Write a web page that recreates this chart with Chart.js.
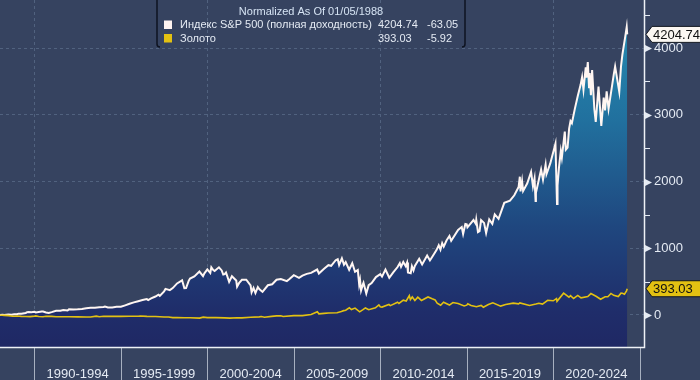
<!DOCTYPE html>
<html>
<head>
<meta charset="utf-8">
<script src="https://cdn.jsdelivr.net/npm/chart.js@4.4.1/dist/chart.umd.min.js"></script>
<style>
    html, body { margin: 0; padding: 0; background: #364360; }
    #wrap { width: 700px; height: 380px; }
</style>
</head>
<body>
<div id="wrap"><canvas id="chart" width="700" height="380"></canvas></div>
<script>
// S&P 500 total return, % change since 01/05/1988
const spxDates = [
    1988.01, 1988.16, 1988.25, 1988.5, 1988.67, 1988.83, 1989.0, 1989.08, 1989.25, 1989.5,
    1989.58, 1989.67, 1989.83, 1990.0, 1990.08, 1990.42, 1990.5, 1990.67, 1990.83, 1991.0,
    1991.25, 1991.5, 1991.67, 1991.92, 1992.0, 1992.25, 1992.5, 1992.75, 1993.0, 1993.25,
    1993.5, 1993.75, 1994.0, 1994.08, 1994.25, 1994.5, 1994.75, 1995.0, 1995.25, 1995.5,
    1995.75, 1996.0, 1996.25, 1996.5, 1996.58, 1996.75, 1997.0, 1997.17, 1997.25, 1997.5,
    1997.58, 1997.83, 1998.0, 1998.25, 1998.54, 1998.67, 1998.77, 1998.92, 1999.0, 1999.25,
    1999.54, 1999.75, 1999.83, 2000.0, 2000.17, 2000.23, 2000.33, 2000.42, 2000.67, 2000.83,
    2000.92, 2001.0, 2001.08, 2001.26, 2001.42, 2001.67, 2001.72, 2001.83, 2002.0, 2002.25,
    2002.5, 2002.56, 2002.67, 2002.78, 2002.92, 2003.0, 2003.19, 2003.5, 2003.75, 2004.0,
    2004.25, 2004.6, 2004.75, 2005.0, 2005.3, 2005.5, 2005.75, 2006.0, 2006.35, 2006.45,
    2006.75, 2007.0, 2007.16, 2007.42, 2007.54, 2007.62, 2007.78, 2007.9, 2008.0, 2008.2,
    2008.38, 2008.54, 2008.7, 2008.78, 2008.83, 2008.89, 2009.0, 2009.03, 2009.19, 2009.33,
    2009.5, 2009.75, 2010.0, 2010.1, 2010.3, 2010.52, 2010.75, 2011.0, 2011.13, 2011.2,
    2011.33, 2011.47, 2011.55, 2011.6, 2011.76, 2011.83, 2011.92, 2012.0, 2012.25, 2012.42,
    2012.71, 2012.87, 2013.0, 2013.25, 2013.38, 2013.48, 2013.58, 2013.67, 2013.83, 2014.0,
    2014.1, 2014.5, 2014.71, 2014.79, 2014.92, 2015.0, 2015.04, 2015.39, 2015.52, 2015.55,
    2015.65, 2015.74, 2015.83, 2016.0, 2016.12, 2016.3, 2016.48, 2016.62, 2016.84, 2017.0,
    2017.17, 2017.5, 2017.75, 2018.0, 2018.07, 2018.11, 2018.2, 2018.26, 2018.5, 2018.72,
    2018.83, 2018.92, 2018.98, 2019.0, 2019.3, 2019.41, 2019.56, 2019.61, 2019.83, 2020.0,
    2020.13, 2020.22, 2020.25, 2020.33, 2020.44, 2020.5, 2020.67, 2020.73, 2020.83, 2020.92,
    2021.0, 2021.08, 2021.25, 2021.42, 2021.58, 2021.67, 2021.75, 2021.88, 2021.92, 2022.0,
    2022.07, 2022.11, 2022.18, 2022.25, 2022.38, 2022.46, 2022.62, 2022.78, 2022.92, 2023.0,
    2023.09, 2023.2, 2023.5, 2023.58, 2023.82, 2023.92, 2024.0, 2024.17, 2024.25, 2024.28
];
const spxValues = [
    0, 4.2, 1.0, 7.7, 3.6, 11.2, 11.4, 19.7, 19.3, 29.8,
    41.6, 44.2, 40.5, 46.7, 37.0, 52.3, 51.4, 37.2, 30.1, 42.2,
    62.9, 62.5, 74.0, 66.4, 85.5, 80.9, 84.2, 90.0, 99.6, 108.4,
    109.4, 114.7, 119.8, 127.5, 111.6, 112.4, 122.7, 122.6, 144.3, 167.5,
    188.8, 206.3, 222.9, 237.3, 222.5, 247.7, 276.8, 303.5, 286.9, 354.3,
    390.6, 372.3, 402.6, 472.8, 519.3, 400.9, 402.4, 511.1, 546.3, 578.4,
    650.5, 580.7, 624, 682.1, 628.7, 715, 676, 659.7, 713.6, 667.4,
    606.7, 610.9, 636.3, 496, 579.9, 515.6, 424.8, 476.8, 526.3, 528.5,
    444.4, 339.1, 405.2, 329.0, 418.4, 387.9, 345.3, 445.3, 459.9, 527.9,
    538.8, 506.7, 537.5, 596.3, 557.1, 590.7, 615.7, 630.4, 680.9, 622.1,
    692.8, 745.8, 736.8, 820.1, 835.7, 748.8, 847.4, 753.5, 792.3, 677.5,
    774.9, 647.9, 673.5, 457, 523, 367, 462.2, 482.1, 322.8, 447.0,
    478.1, 568.1, 611.1, 575, 680.3, 557.9, 638.9, 718.5, 776.3, 721.4,
    793.7, 731.6, 785.6, 637.7, 626.8, 729.9, 668.7, 735.7, 841.3, 757.3,
    889.8, 817.2, 869.4, 972.4, 1043.9, 980.4, 1076.6, 1024.2, 1115.3, 1183.5,
    1111.7, 1275.3, 1317.2, 1214.5, 1363, 1359.3, 1313.4, 1422.9, 1366.8, 1426.2,
    1242.1, 1254.9, 1421.8, 1379.7, 1227.9, 1432.4, 1364, 1507.8, 1440.8, 1557.3,
    1679.7, 1712, 1793.1, 1918.6, 2071.6, 1852.3, 2008.1, 1857.8, 1972.5, 2144.1,
    1926.6, 2044.7, 1709.2, 1829.8, 2179.2, 2027.2, 2251.4, 2109.4, 2271.4, 2437.7,
    2566.2, 1664.6, 1939.5, 2201.7, 2459.4, 2357.6, 2747.1, 2476.6, 2507.8, 2793,
    2904.6, 2874, 3089.1, 3282.6, 3444.8, 3563.6, 3376.5, 3710.2, 3556.9, 3791.4,
    3413.6, 3627, 3292, 3670.6, 3081.5, 2893.9, 3423, 2833.5, 3255.9, 3067,
    3351.7, 3089.1, 3601.4, 3721.7, 3342.5, 3725.5, 3900, 4179.4, 4314.2, 4204.74
];

// Gold, % change since 01/05/1988
const goldDates = [
    1988.01, 1988.04, 1988.25, 1988.5, 1988.75, 1989.0, 1989.25, 1989.5, 1989.75, 1990.0,
    1990.08, 1990.25, 1990.5, 1990.67, 1991.0, 1991.25, 1992.0, 1992.5, 1993.0, 1993.25,
    1993.58, 1993.75, 1994.0, 1994.5, 1995.0, 1995.5, 1996.0, 1996.13, 1996.5, 1997.0,
    1997.25, 1997.5, 1997.75, 1998.0, 1998.25, 1998.67, 1999.0, 1999.55, 1999.76, 2000.0,
    2000.13, 2000.5, 2001.0, 2001.3, 2001.72, 2002.0, 2002.5, 2003.0, 2003.12, 2003.3,
    2003.72, 2004.0, 2004.25, 2004.38, 2005.0, 2005.5, 2006.0, 2006.36, 2006.45, 2006.75,
    2007.0, 2007.5, 2007.75, 2007.88, 2008.0, 2008.21, 2008.33, 2008.54, 2008.81, 2009.0,
    2009.14, 2009.33, 2009.72, 2009.92, 2010.0, 2010.1, 2010.5, 2010.58, 2011.0, 2011.08,
    2011.33, 2011.5, 2011.68, 2011.74, 2011.85, 2012.0, 2012.17, 2012.38, 2012.76, 2013.0,
    2013.17, 2013.29, 2013.49, 2013.66, 2014.0, 2014.2, 2014.5, 2014.85, 2015.0, 2015.06,
    2015.25, 2015.56, 2015.83, 2015.96, 2016.25, 2016.51, 2016.96, 2017.25, 2017.69, 2018.0,
    2018.07, 2018.63, 2019.0, 2019.17, 2019.38, 2019.68, 2020.0, 2020.19, 2020.22, 2020.6,
    2020.91, 2021.0, 2021.18, 2021.42, 2021.61, 2022.0, 2022.18, 2022.5, 2022.74, 2023.0,
    2023.16, 2023.34, 2023.5, 2023.76, 2023.92, 2024.0, 2024.12, 2024.24, 2024.28
];
const goldValues = [
    0, -1.6, -5.8, -10.1, -18.1, -15.5, -20.6, -23.1, -24.3, -17.3,
    -14.4, -23.9, -27.4, -18.6, -20.4, -26.6, -27.2, -29.3, -31.3, -30.5,
    -17.3, -26.8, -19.4, -20.6, -21.0, -20.2, -20.2, -16.5, -21.2, -23.9,
    -27.4, -31.1, -31.5, -40.2, -38.1, -41.4, -40.6, -47.2, -33.0, -40.2,
    -38.1, -40.4, -43.9, -46.8, -42.3, -42.9, -34.4, -28.5, -24.1, -33.0,
    -20.6, -14.2, -12.6, -22.7, -9.7, -9.9, 5.8, 48.5, 16.9, 23.7,
    30.3, 34.0, 53.2, 64.9, 72.0, 108.5, 81.4, 103.7, 47.0, 79.4,
    105.2, 79.4, 106.2, 151.1, 124.3, 118.1, 156.5, 139.2, 190.7, 172.0,
    220.8, 209.3, 290.7, 229.9, 270.1, 215.7, 267.0, 217.5, 269.1, 241.6,
    225.8, 178.4, 145.8, 191.8, 148.2, 185.6, 171.1, 135.1, 147.2, 168.0,
    143.3, 122.7, 143.3, 116.5, 156.7, 181.6, 132.6, 156.7, 177.5, 167.2,
    180.4, 142.1, 163.7, 176.3, 162.9, 219.6, 212.4, 246.4, 203.9, 326.2,
    266.2, 289.3, 247.2, 292.8, 256.7, 275.3, 320.6, 277.3, 235.7, 273.8,
    273.2, 322.7, 294.8, 275.3, 326.8, 325.4, 310.7, 359.8, 393.03
];

const legendTitle = 'Normalized As Of 01/05/1988';
const seriesNames = ['Индекс S&P 500 (полная доходность)', 'Золото'];
const lastValues = ['4204.74', '393.03'];
const lastChanges = ['-63.05', '-5.92'];

const xGridYears = [1990, 2000, 2010, 2020];
const xLabelStarts = [1990, 1995, 2000, 2005, 2010, 2015, 2020];
const xLabels = ['1990-1994', '1995-1999', '2000-2004', '2005-2009', '2010-2014', '2015-2019', '2020-2024'];
const yTickValues = [0, 1000, 2000, 3000, 4000];
const yMinorTicks = [500, 1500, 2500, 3500, 4500];

const BG = '#364360';
const GRID = '#51627f';
const TEXT = '#e4eaf3';
const WHITE_LINE = '#fff6f2';
const GOLD = '#e3c112';
const FONT = "'Liberation Sans', Arial, sans-serif";

Chart.defaults.font.family = FONT;

function toPoints(dates, values) {
    return dates.map((d, i) => ({ x: d, y: values[i] }));
}

function valueTag(ctx, px, py, text, bg) {
    const h = 16;
    const tip = 6;
    ctx.beginPath();
    ctx.moveTo(px, py);
    ctx.lineTo(px + tip, py - h / 2);
    ctx.lineTo(701, py - h / 2);
    ctx.lineTo(701, py + h / 2);
    ctx.lineTo(px + tip, py + h / 2);
    ctx.closePath();
    ctx.fillStyle = bg;
    ctx.fill();
    ctx.strokeStyle = '#141820';
    ctx.lineWidth = 1;
    ctx.stroke();
    ctx.fillStyle = '#111';
    ctx.font = '13px ' + FONT;
    ctx.textAlign = 'left';
    ctx.textBaseline = 'middle';
    ctx.fillText(text, px + tip + 1, py + 1);
}

// no extra padding round the plot: it has to fill the canvas up to the axes
function noPadding(s) {
    s.paddingTop = 0;
    s.paddingBottom = 0;
    s.paddingLeft = 0;
    s.paddingRight = 0;
}

const decorPlugin = {
    id: 'decor',
    afterDraw(chart) {
        const ctx = chart.ctx;
        const a = chart.chartArea;
        const x = chart.scales.x;
        const y = chart.scales.y;
        ctx.save();

        // frame of the plot
        ctx.strokeStyle = '#eef1f6';
        ctx.lineWidth = 1.5;
        ctx.beginPath();
        ctx.moveTo(a.left, a.bottom + 0.5);
        ctx.lineTo(a.right + 0.5, a.bottom + 0.5);
        ctx.lineTo(a.right + 0.5, a.top);
        ctx.stroke();

        // y axis marks
        ctx.strokeStyle = TEXT;
        ctx.fillStyle = TEXT;
        ctx.lineWidth = 1;
        yMinorTicks.forEach(v => {
            const py = Math.round(y.getPixelForValue(v)) + 0.5;
            ctx.beginPath();
            ctx.moveTo(a.right, py);
            ctx.lineTo(a.right + 6, py);
            ctx.stroke();
        });
        yTickValues.forEach(v => {
            const py = Math.round(y.getPixelForValue(v)) + 0.5;
            ctx.beginPath();
            ctx.moveTo(a.right + 1, py - 3.5);
            ctx.lineTo(a.right + 8, py);
            ctx.lineTo(a.right + 1, py + 3.5);
            ctx.closePath();
            ctx.fill();
        });

        // x axis: 5-year bands with separators
        ctx.strokeStyle = 'rgba(205,212,224,0.75)';
        ctx.lineWidth = 1;
        const bounds = xLabelStarts.concat([xLabelStarts[xLabelStarts.length - 1] + 5]);
        bounds.forEach(v => {
            const px = Math.round(x.getPixelForValue(v)) + 0.5;
            ctx.beginPath();
            ctx.moveTo(px, a.bottom + 1);
            ctx.lineTo(px, 380);
            ctx.stroke();
        });
        ctx.fillStyle = TEXT;
        ctx.font = '13px ' + FONT;
        ctx.textAlign = 'center';
        ctx.textBaseline = 'alphabetic';
        xLabels.forEach((lab, i) => {
            const cx = (x.getPixelForValue(xLabelStarts[i]) + x.getPixelForValue(xLabelStarts[i] + 5)) / 2;
            ctx.fillText(lab, cx, 378);
        });

        // last value tags
        valueTag(ctx, a.right + 2, y.getPixelForValue(spxValues[spxValues.length - 1]), lastValues[0], '#fbf7f2');
        valueTag(ctx, a.right + 2, y.getPixelForValue(goldValues[goldValues.length - 1]), lastValues[1], GOLD);

        // legend box
        ctx.strokeStyle = '#0e1320';
        ctx.lineWidth = 1.5;
        ctx.beginPath();
        ctx.moveTo(157, 0);
        ctx.lineTo(157, 44);
        ctx.quadraticCurveTo(157, 47, 160, 47);
        ctx.moveTo(465, 0);
        ctx.lineTo(465, 44);
        ctx.quadraticCurveTo(465, 47, 462, 47);
        ctx.stroke();

        ctx.font = '11px ' + FONT;
        ctx.textBaseline = 'middle';
        ctx.textAlign = 'center';
        ctx.fillStyle = '#d6e4f4';
        ctx.fillText(legendTitle, 311, 12);
        const rowY = [25, 38.5];
        const swatch = ['#fff4f0', GOLD];
        ctx.textAlign = 'left';
        rowY.forEach((ry, i) => {
            ctx.fillStyle = swatch[i];
            ctx.fillRect(164, ry - 4.5, 8, 8.5);
            ctx.fillStyle = TEXT;
            ctx.fillText(seriesNames[i], 180, ry);
            ctx.fillText(lastValues[i], 378, ry);
            ctx.fillText(lastChanges[i], 427, ry);
        });

        ctx.restore();
    }
};

const ctx = document.getElementById('chart').getContext('2d');
const chart = new Chart(ctx, {
    type: 'line',
    data: {
        datasets: [{
            label: seriesNames[0],
            data: toPoints(spxDates, spxValues),
            borderColor: WHITE_LINE,
            borderWidth: 2,
            pointRadius: 0,
            tension: 0,
            fill: 'start',
            backgroundColor: (c) => {
                const area = c.chart.chartArea;
                if (!area) return 'rgba(0,0,0,0)';
                const g = c.chart.ctx.createLinearGradient(0, area.top, 0, area.bottom);
                g.addColorStop(0, '#2690b4');
                g.addColorStop(0.35, '#21709e');
                g.addColorStop(0.65, '#1f477f');
                g.addColorStop(0.9, '#1f2d6a');
                g.addColorStop(1, '#1f2864');
                return g;
            },
            order: 2
        }, {
            label: seriesNames[1],
            data: toPoints(goldDates, goldValues),
            borderColor: GOLD,
            borderWidth: 1.6,
            pointRadius: 0,
            tension: 0,
            fill: false,
            order: 1
        }]
    },
    options: {
        responsive: false,
        devicePixelRatio: 1,
        animation: false,
        layout: { padding: 0 },
        plugins: {
            legend: { display: false },
            tooltip: { enabled: false }
        },
        scales: {
            x: {
                type: 'linear',
                min: 1988.01,
                max: 2025.25,
                z: 1,
                afterBuildTicks: (s) => { s.ticks = xGridYears.map(v => ({ value: v })); },
                afterFit: (s) => { s.height = 33; noPadding(s); },
                ticks: { display: false },
                grid: { color: GRID, drawTicks: false, lineWidth: 1 },
                border: { display: false, dash: [3, 3] }
            },
            y: {
                position: 'right',
                min: -480,
                max: 4720,
                z: 1,
                afterBuildTicks: (s) => { s.ticks = yTickValues.map(v => ({ value: v })); },
                afterFit: (s) => { s.width = 56; noPadding(s); },
                ticks: {
                    color: TEXT,
                    padding: 10,
                    font: { size: 13, family: FONT },
                    callback: (v) => String(v)
                },
                grid: { color: GRID, drawTicks: false, lineWidth: 1 },
                border: { display: false, dash: [3, 3] }
            }
        }
    },
    plugins: [decorPlugin]
});
</script>
</body>
</html>
